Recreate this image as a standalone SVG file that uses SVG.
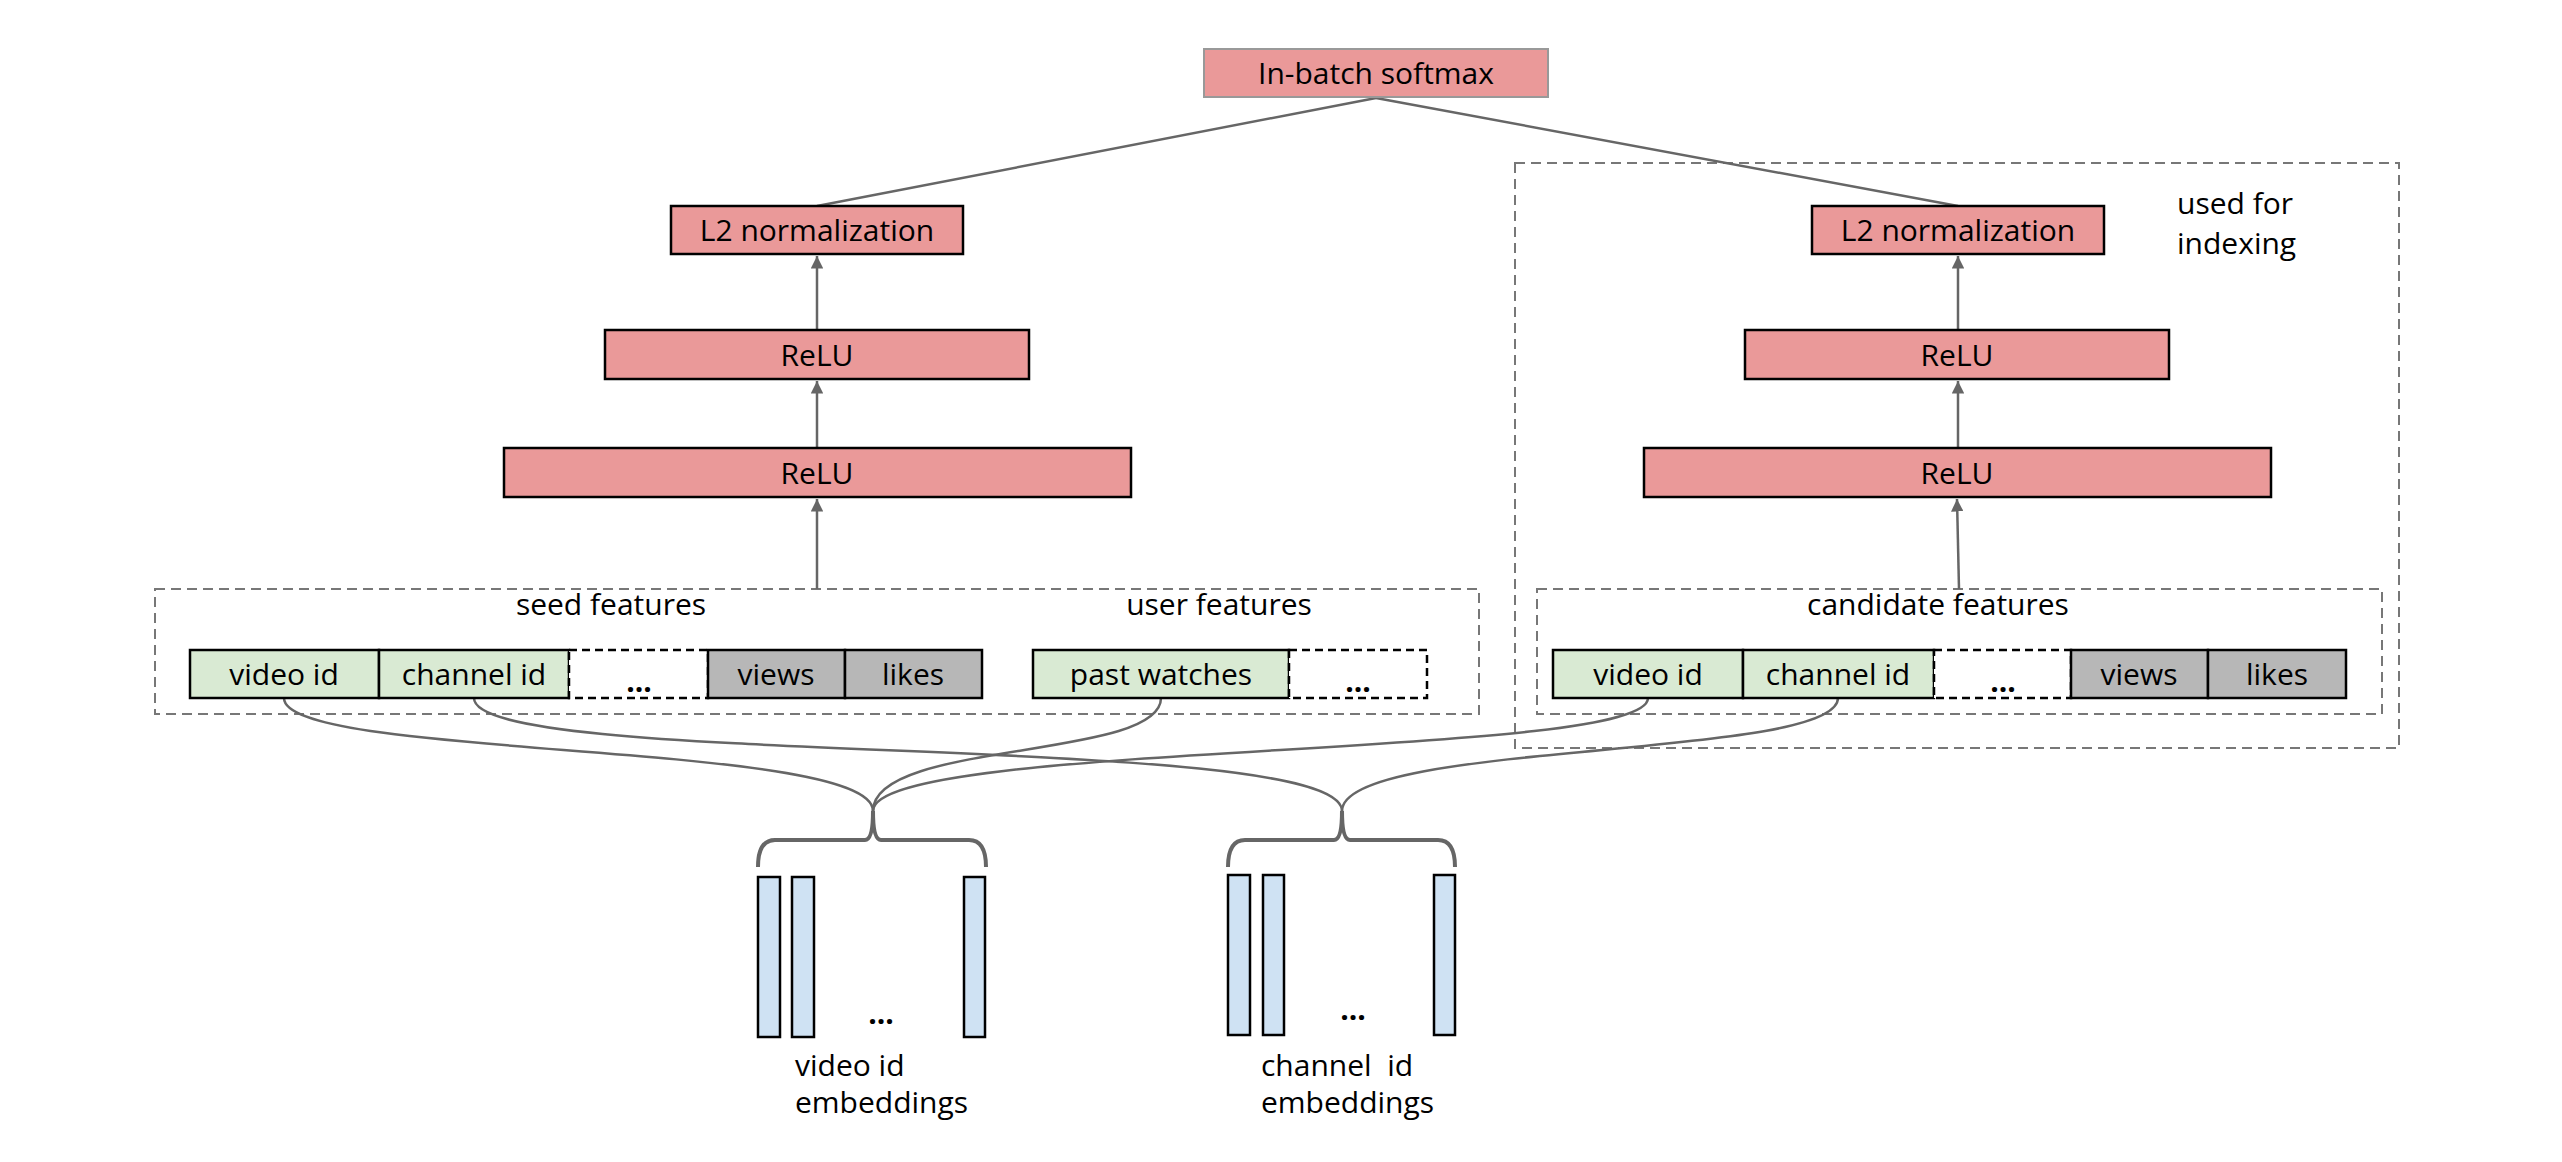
<svg xmlns="http://www.w3.org/2000/svg" width="2562" height="1162" viewBox="0 0 2562 1162">
<style>
text{font-family:"Open Sans","Liberation Sans",sans-serif;font-size:30px;fill:#000}
.c{text-anchor:middle}
.pink{fill:#EA9999;stroke:#000;stroke-width:2.5}
.green{fill:#D9EAD3;stroke:#000;stroke-width:2.5}
.gray{fill:#B7B7B7;stroke:#000;stroke-width:2.5}
.dot{fill:#fff;stroke:#000;stroke-width:2.5;stroke-dasharray:8 5}
.emb{fill:#CFE2F3;stroke:#000;stroke-width:2.5}
.grp{fill:none;stroke:#777;stroke-width:2;stroke-dasharray:10 6}
.ln{fill:none;stroke:#666;stroke-width:2.5}
.brace{fill:none;stroke:#666;stroke-width:4}
.b{font-weight:bold}
</style>
<defs>
<marker id="ah" viewBox="0 0 10 10" refX="10" refY="5" markerWidth="5" markerHeight="5" orient="auto"><path d="M0,0 L10,5 L0,10 z" fill="#666"/></marker>
</defs>
<g id="groups">
<rect class="grp" x="155" y="589" width="1324" height="125"/>
<rect class="grp" x="1515" y="163" width="884" height="585"/>
<rect class="grp" x="1537" y="589" width="845" height="125"/>
</g>
<g id="connectors">
<path class="ln" d="M1376,98 L817,206"/>
<path class="ln" d="M1376,98 L1958,206"/>
<path class="ln" d="M817,330 L817,256" marker-end="url(#ah)"/>
<path class="ln" d="M817,448 L817,381" marker-end="url(#ah)"/>
<path class="ln" d="M817,589 L817,499" marker-end="url(#ah)"/>
<path class="ln" d="M1958,330 L1958,256" marker-end="url(#ah)"/>
<path class="ln" d="M1958,448 L1958,381" marker-end="url(#ah)"/>
<path class="ln" d="M1959,589 L1957,499" marker-end="url(#ah)"/>
<path class="ln" d="M284,698 C284,760 873,740 873,811"/>
<path class="ln" d="M474,698 C474,770 1342,730 1342,811"/>
<path class="ln" d="M1161,698 C1161,760 873,740 873,811"/>
<path class="ln" d="M1648,698 C1648,760 873,740 873,811"/>
<path class="ln" d="M1838,698 C1838,760 1342,740 1342,811"/>
<path class="brace" d="M758,867 Q758,840 775,840 L865,840 Q873,840 873,811 Q873,840 881,840 L969,840 Q986,840 986,867"/>
<path class="brace" d="M1228,867 Q1228,840 1245,840 L1334,840 Q1342,840 1342,811 Q1342,840 1350,840 L1438,840 Q1455,840 1455,867"/>
</g>
<g id="softmax"><rect x="1204" y="49" width="344" height="48" fill="#EA9999" stroke="#999" stroke-width="2"/><text class="c" x="1376" y="84">In-batch softmax</text></g>
<g id="l2-left"><rect class="pink" x="671" y="206" width="292" height="48"/><text class="c" x="817" y="241">L2 normalization</text></g>
<g id="relu1-left"><rect class="pink" x="605" y="330" width="424" height="49"/><text class="c" x="817" y="366">ReLU</text></g>
<g id="relu2-left"><rect class="pink" x="504" y="448" width="627" height="49"/><text class="c" x="817" y="484">ReLU</text></g>
<g id="l2-right"><rect class="pink" x="1812" y="206" width="292" height="48"/><text class="c" x="1958" y="241">L2 normalization</text></g>
<g id="relu1-right"><rect class="pink" x="1745" y="330" width="424" height="49"/><text class="c" x="1957" y="366">ReLU</text></g>
<g id="relu2-right"><rect class="pink" x="1644" y="448" width="627" height="49"/><text class="c" x="1957" y="484">ReLU</text></g>
<g id="indexing-label"><text x="2177" y="214">used for</text><text x="2177" y="254">indexing</text></g>
<g id="seed-features">
<text class="c" x="611" y="615">seed features</text>
<rect class="green" x="190" y="650" width="189" height="48"/><text class="c" x="284" y="685">video id</text>
<rect class="green" x="379" y="650" width="190" height="48"/><text class="c" x="474" y="685">channel id</text>
<rect class="dot" x="569" y="650" width="139" height="48"/><text class="c b" x="639" y="692">...</text>
<rect class="gray" x="708" y="650" width="137" height="48"/><text class="c" x="776" y="685">views</text>
<rect class="gray" x="845" y="650" width="137" height="48"/><text class="c" x="913" y="685">likes</text>
</g>
<g id="user-features">
<text class="c" x="1219" y="615">user features</text>
<rect class="green" x="1033" y="650" width="256" height="48"/><text class="c" x="1161" y="685">past watches</text>
<rect class="dot" x="1289" y="650" width="138" height="48"/><text class="c b" x="1358" y="692">...</text>
</g>
<g id="candidate-features">
<text class="c" x="1938" y="615">candidate features</text>
<rect class="green" x="1553" y="650" width="190" height="48"/><text class="c" x="1648" y="685">video id</text>
<rect class="green" x="1743" y="650" width="191" height="48"/><text class="c" x="1838" y="685">channel id</text>
<rect class="dot" x="1934" y="650" width="137" height="48"/><text class="c b" x="2003" y="692">...</text>
<rect class="gray" x="2071" y="650" width="137" height="48"/><text class="c" x="2139" y="685">views</text>
<rect class="gray" x="2208" y="650" width="138" height="48"/><text class="c" x="2277" y="685">likes</text>
</g>
<g id="video-embeddings">
<rect class="emb" x="758" y="877" width="22" height="160"/>
<rect class="emb" x="792" y="877" width="22" height="160"/>
<rect class="emb" x="964" y="877" width="21" height="160"/>
<text class="c b" x="881" y="1024">...</text>
<text x="795" y="1076">video id</text><text x="795" y="1113">embeddings</text>
</g>
<g id="channel-embeddings">
<rect class="emb" x="1228" y="875" width="22" height="160"/>
<rect class="emb" x="1263" y="875" width="21" height="160"/>
<rect class="emb" x="1434" y="875" width="21" height="160"/>
<text class="c b" x="1353" y="1020">...</text>
<text x="1261" y="1076" xml:space="preserve">channel  id</text><text x="1261" y="1113">embeddings</text>
</g>
</svg>
